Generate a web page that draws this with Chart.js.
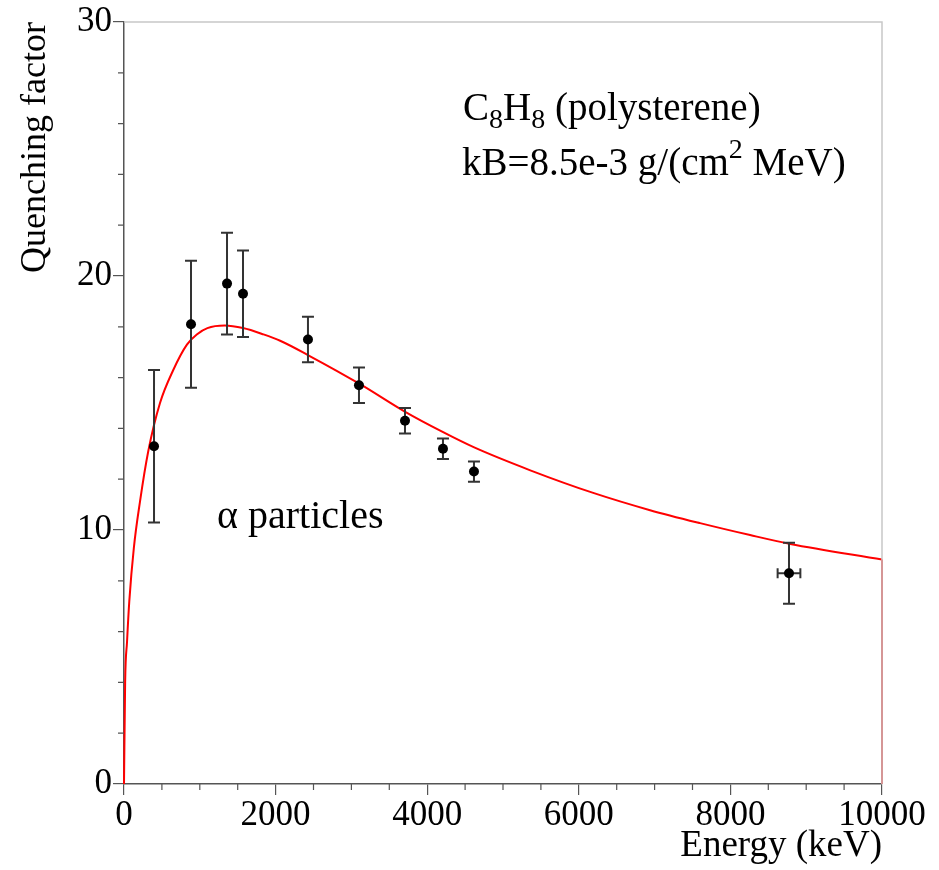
<!DOCTYPE html>
<html>
<head>
<meta charset="utf-8">
<script src="https://cdn.jsdelivr.net/npm/chart.js@4"></script>
<style>
  body { margin: 0; background: #fff; }
  #wrap { width: 939px; height: 870px; }
</style>
</head>
<body>
<div id="wrap"><canvas id="myChart" width="939" height="870"></canvas></div>
<script>
// measured points (alpha particles in polystyrene)
const energy = [396, 884, 1359, 1570, 2427, 3100, 3707, 4208, 4617, 8773];
const quench = [13.3, 18.1, 19.7, 19.3, 17.5, 15.7, 14.3, 13.2, 12.3, 8.3];
const quenchErr = [3.0, 2.5, 2.0, 1.7, 0.9, 0.7, 0.5, 0.4, 0.4, 1.2];
const energyErr = [0, 0, 0, 0, 0, 0, 0, 0, 0, 150];

// fit curve
const fitEnergy = [0, 15, 40, 70, 130, 210, 320, 475, 650, 830, 960, 1100, 1330, 1570, 1840, 2060, 2450, 3110, 3710, 4210, 4620, 5360, 6200, 6940, 7600, 8260, 8790, 10000];
const fitQuench = [0, 4.0, 5.6, 7.2, 9.3, 11.1, 13.1, 15.0, 16.3, 17.3, 17.7, 17.95, 18.05, 17.95, 17.7, 17.45, 16.85, 15.75, 14.65, 13.85, 13.25, 12.35, 11.45, 10.78, 10.27, 9.8, 9.45, 8.84];

const xMajor = 2000, xMinor = 500;
const yMajor = 10, yMinor = 2;

const serif = '"Liberation Serif", "DejaVu Serif", serif';
const axisColor = '#555';

let points = [];
for (let i = 0; i < energy.length; i++) {
	points.push({ x: energy[i], y: quench[i] });
}
let fit = [];
for (let i = 0; i < fitEnergy.length; i++) {
	fit.push({ x: fitEnergy[i], y: fitQuench[i] });
}
let last = fit[fit.length - 1];
let tail = [{ x: last.x, y: last.y }, { x: last.x, y: 0 }];

// minor ticks, error bars, frame and labels
const extras = {
	id: 'extras',
	afterDatasetsDraw(chart) {
		const ctx = chart.ctx;
		const xs = chart.scales.x, ys = chart.scales.y;
		const a = chart.chartArea;
		ctx.save();

		// light frame on top and right
		ctx.strokeStyle = '#c8c8c8';
		ctx.lineWidth = 1.5;
		ctx.beginPath();
		ctx.moveTo(a.left, a.top);
		ctx.lineTo(a.right, a.top);
		ctx.lineTo(a.right, a.bottom);
		ctx.stroke();

		// minor ticks
		ctx.strokeStyle = axisColor;
		ctx.lineWidth = 1.2;
		ctx.beginPath();
		for (let v = xs.min; v <= xs.max; v += xMinor) {
			if (v % xMajor === 0) continue;
			let px = xs.getPixelForValue(v);
			ctx.moveTo(px, a.bottom);
			ctx.lineTo(px, a.bottom + 6);
		}
		for (let v = ys.min; v <= ys.max; v += yMinor) {
			if (v % yMajor === 0) continue;
			let py = ys.getPixelForValue(v);
			ctx.moveTo(a.left, py);
			ctx.lineTo(a.left - 6, py);
		}
		ctx.stroke();

		// error bars
		ctx.strokeStyle = '#333';
		ctx.lineWidth = 2;
		ctx.beginPath();
		for (let i = 0; i < energy.length; i++) {
			let px = xs.getPixelForValue(energy[i]);
			let top = ys.getPixelForValue(quench[i] + quenchErr[i]);
			let bot = ys.getPixelForValue(quench[i] - quenchErr[i]);
			ctx.moveTo(px, top); ctx.lineTo(px, bot);
			ctx.moveTo(px - 6, top); ctx.lineTo(px + 6, top);
			ctx.moveTo(px - 6, bot); ctx.lineTo(px + 6, bot);
			if (energyErr[i] > 0) {
				let l = xs.getPixelForValue(energy[i] - energyErr[i]);
				let r = xs.getPixelForValue(energy[i] + energyErr[i]);
				let py = ys.getPixelForValue(quench[i]);
				ctx.moveTo(l, py); ctx.lineTo(r, py);
				ctx.moveTo(l, py - 5); ctx.lineTo(l, py + 5);
				ctx.moveTo(r, py - 5); ctx.lineTo(r, py + 5);
			}
		}
		ctx.stroke();

		// redraw markers over the bars
		ctx.fillStyle = '#000';
		for (let i = 0; i < energy.length; i++) {
			ctx.beginPath();
			ctx.arc(xs.getPixelForValue(energy[i]), ys.getPixelForValue(quench[i]), 5, 0, Math.PI * 2);
			ctx.fill();
		}

		// text
		ctx.fillStyle = '#000';
		ctx.textBaseline = 'alphabetic';
		ctx.textAlign = 'left';
		const big = '39px ' + serif, small = '28px ' + serif;
		function run(parts, x, y) {
			for (let p of parts) {
				ctx.font = p.s ? small : big;
				ctx.fillText(p.t, x, y + (p.dy || 0));
				x += ctx.measureText(p.t).width;
			}
		}
		run([{ t: 'C' }, { t: '8', s: 1, dy: 8 }, { t: 'H' }, { t: '8', s: 1, dy: 8 }, { t: ' (polysterene)' }], 463, 120);
		run([{ t: 'kB=8.5e-3 g/(cm' }, { t: '2', s: 1, dy: -17 }, { t: ' MeV)' }], 462, 175);
		ctx.font = '40px ' + serif;
		ctx.fillText('\u03b1 particles', 217, 528);
		ctx.restore();
	}
};

const ctx = document.getElementById('myChart').getContext('2d');
const myChart = new Chart(ctx, {
	type: 'scatter',
	data: {
		datasets: [
			{
				label: 'fit',
				data: fit,
				showLine: true,
				borderColor: '#ff0000',
				borderWidth: 2,
				pointRadius: 0,
				cubicInterpolationMode: 'monotone',
				fill: false
			},
			{
				label: 'tail',
				data: tail,
				showLine: true,
				borderColor: '#ff0000',
				borderWidth: 2,
				pointRadius: 0,
				tension: 0
			},
			{
				label: 'alpha',
				data: points,
				pointRadius: 0,
				backgroundColor: '#000'
			}
		]
	},
	options: {
		responsive: false,
		animation: false,
		clip: false,
		layout: { padding: { top: 18, right: 57, left: 0, bottom: 0 } },
		plugins: { legend: { display: false }, tooltip: { enabled: false } },
		scales: {
			x: {
				type: 'linear',
				min: 0,
				max: 10000,
				afterFit: function(scale) { scale.height = 86; },
				ticks: {
					stepSize: xMajor,
					color: '#000',
					font: { family: serif, size: 35 },
					padding: 0,
					maxRotation: 0,
					callback: function(v) { return String(v); }
				},
				grid: { drawOnChartArea: false, tickLength: 11, color: axisColor, lineWidth: 1.2 },
				border: { color: axisColor, width: 1.5 },
				title: {
					display: true,
					text: 'Energy (keV)',
					align: 'end',
					color: '#000',
					font: { family: serif, size: 37 },
					padding: { top: 0, bottom: 2 }
				}
			},
			y: {
				type: 'linear',
				min: 0,
				max: 30,
				afterFit: function(scale) { scale.width = 124; },
				ticks: {
					stepSize: yMajor,
					color: '#000',
					font: { family: serif, size: 35 },
					padding: 1,
					callback: function(v) { return String(v); }
				},
				grid: { drawOnChartArea: false, tickLength: 11, color: axisColor, lineWidth: 1.2 },
				border: { color: axisColor, width: 1.5 },
				title: {
					display: true,
					text: 'Quenching factor',
					align: 'end',
					color: '#000',
					font: { family: serif, size: 36 },
					padding: { top: 14, bottom: 0 }
				}
			}
		}
	},
	plugins: [extras]
});
</script>
</body>
</html>
